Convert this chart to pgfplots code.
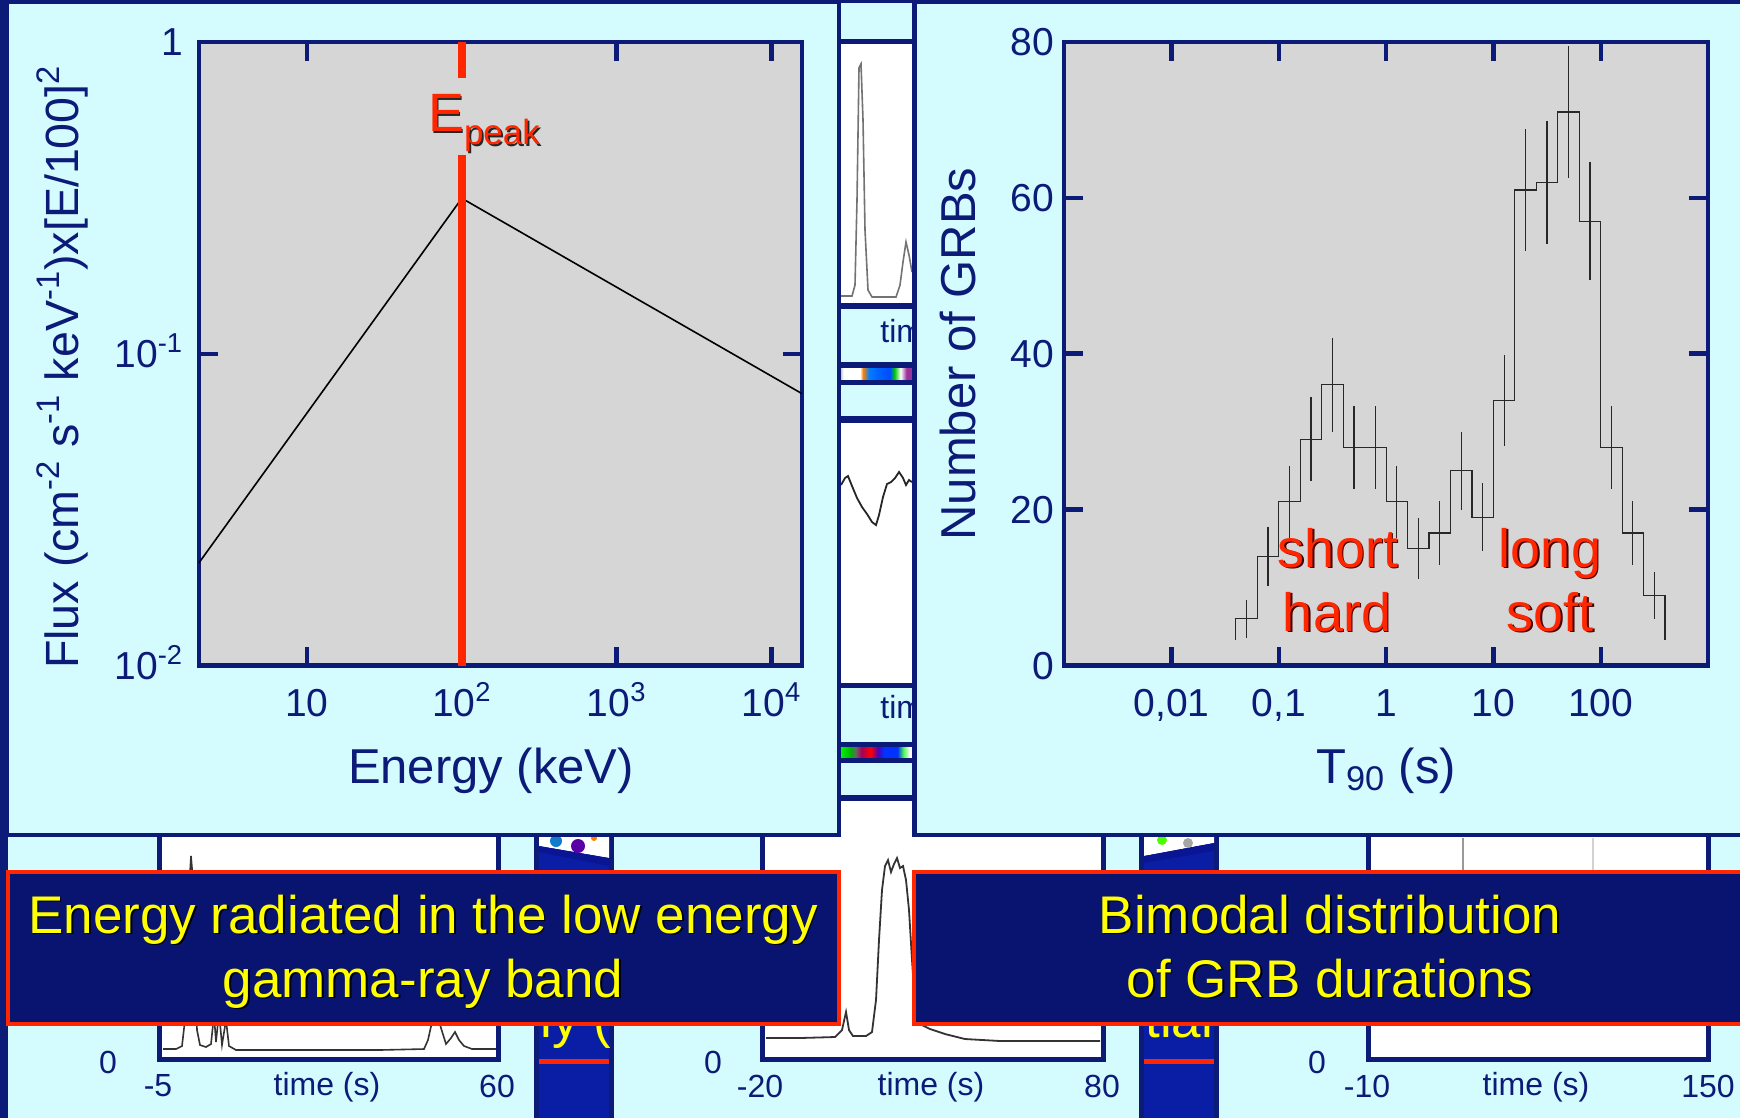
\documentclass[border=0pt]{standalone}
\usepackage{fontspec}
\setmainfont{Liberation Sans}
\usepackage{pgfplots}
\pgfplotsset{compat=1.18, /pgf/number format/assume math mode=true}
\definecolor{navy}{RGB}{12,26,120}
\definecolor{cyanbg}{RGB}{212,251,253}
\definecolor{plotbg}{RGB}{214,214,214}
\definecolor{redc}{RGB}{255,38,0}
\definecolor{boxfill}{RGB}{8,20,112}
\definecolor{stripblue}{RGB}{10,30,165}
\definecolor{histc}{RGB}{40,40,40}
\definecolor{ylw}{RGB}{255,255,0}
\pgfdeclarehorizontalshading{stripA}{100bp}{color(0bp)=(gray!70); color(25bp)=(gray!70); color(28bp)=(white); color(39bp)=(white); color(41bp)=(orange); color(45bp)=(cyan!50!blue); color(50bp)=(blue!60!cyan); color(59bp)=(blue!70!cyan); color(62bp)=(green!80!black); color(66bp)=(white); color(70bp)=(violet!80); color(75bp)=(violet!80); color(100bp)=(violet!80)}
\pgfdeclarehorizontalshading{stripB}{100bp}{color(0bp)=(green); color(25bp)=(green); color(33bp)=(green!70!black); color(36bp)=(black!60); color(40bp)=(violet!70!red); color(46bp)=(red); color(51bp)=(violet!60!blue); color(55bp)=(blue!80!cyan); color(64bp)=(blue!80!cyan); color(68bp)=(green!70); color(72bp)=(white); color(75bp)=(white); color(100bp)=(white)}
\newcommand{\fA}{\fontsize{24.5}{28}\selectfont}
\newcommand{\fY}{\fontsize{23.3}{27}\selectfont}
\newcommand{\fT}{\fontsize{19.5}{22}\selectfont}
\newcommand{\fB}{\fontsize{26.5}{30}\selectfont}
\newcommand{\fS}{\fontsize{16}{19}\selectfont}
\newcommand{\fR}{\fontsize{27}{30}\selectfont}
\begin{document}
\begin{tikzpicture}
\useasboundingbox (0,0) rectangle (870pt,-559pt);
\clip (0,0) rectangle (870pt,-559pt);
% ---------------- background ----------------
\begin{scope}[x=0.5pt,y=-0.5pt]
 \fill[cyanbg] (0,0) rectangle (1740,1118);
 % bottom light-curve boxes
 \filldraw[fill=white, draw=navy, line width=2.5pt] (159.5,798) rectangle (498.5,1059.5);
 \filldraw[fill=white, draw=navy, line width=2.5pt] (762.5,798) rectangle (1103,1059.5);
 \filldraw[fill=white, draw=navy, line width=2.5pt] (1368.5,798) rectangle (1708.5,1059.5);
 % blue strips
 \filldraw[fill=stripblue, draw=navy, line width=2.5pt] (536.5,820) rectangle (611.5,1130);
 \filldraw[fill=stripblue, draw=navy, line width=2.5pt] (1141.5,820) rectangle (1216.5,1130);
 \fill[white] (539,836) -- (609,836) -- (609,858) -- (539,846) -- cycle;
 \fill[navy!80!blue] (539,846) -- (609,858) -- (609,866) -- (539,852) -- cycle;
 \fill[cyan!60!blue] (556,841) circle (6);
 \fill[violet!70!blue] (578,846) circle (7);
 \fill[orange] (594,838) circle (3);
 \fill[white] (1144,836) -- (1214,836) -- (1214,843) -- (1144,856) -- cycle;
 \fill[navy!80!blue] (1144,856) -- (1214,843) -- (1214,851) -- (1144,863) -- cycle;
 \fill[green!70!yellow] (1162,840) circle (5);
 \fill[gray!70] (1188,843) circle (5);
 \fill[redc] (539,1059) rectangle (609,1064);
 \fill[redc] (1144,1059) rectangle (1214,1064);
 % middle strip
 \fill[white] (839,44) rectangle (914,303);
 \fill[white] (839,423) rectangle (914,683);
 \draw[navy, line width=2.5pt] (835,41.5) -- (918,41.5);
 \draw[navy, line width=3pt] (835,306.5) -- (918,306.5);
 \draw[navy, line width=3pt] (835,365) -- (918,365);
 \shade[shading=stripA] (839,368) rectangle (914,380);
 \draw[navy, line width=2.5pt] (835,382.5) -- (918,382.5);
 \draw[navy, line width=3.5pt] (835,419) -- (918,419);
 \draw[navy, line width=2.5pt] (835,685.5) -- (918,685.5);
 \draw[navy, line width=2.5pt] (835,744.5) -- (918,744.5);
 \shade[shading=stripB] (839,747) rectangle (914,758);
 \draw[navy, line width=2.5pt] (835,760) -- (918,760);
 \draw[navy, line width=3pt] (835,798) -- (918,798);
 \node[anchor=base west, inner sep=0pt, text=navy, font=\fS] at (880,343) {time (s)};
 \node[anchor=base west, inner sep=0pt, text=navy, font=\fS] at (880,718) {time (s)};
 % bottom tick labels of the light curves
 \begin{scope}[every node/.style={inner sep=0pt, text=navy, font=\fS}]
  \node at (108,1062) {0};
  \node at (158,1086) {-5};
  \node at (327,1087) {time (s)};
  \node at (497,1086) {60};
  \node at (713,1062) {0};
  \node at (760,1086) {-20};
  \node at (931,1087) {time (s)};
  \node at (1102,1086) {80};
  \node at (1317,1062) {0};
  \node at (1367,1086) {-10};
  \node at (1536,1087) {time (s)};
  \node at (1708,1086) {150};
 \end{scope}
 % hidden yellow texts on the blue strips
 \begin{scope}
  \clip (539,1000) rectangle (609,1059);
  \node[anchor=base west, inner sep=0pt, text=ylw, font=\fB] at (540,1037) {ly (};
 \end{scope}
 \begin{scope}
  \clip (1144,1000) rectangle (1214,1059);
  \node[anchor=base west, inner sep=0pt, text=ylw, font=\fB] at (1145,1037) {tial};
 \end{scope}
\end{scope}
% ---------------- light-curve traces ----------------
\begin{axis}[at={(0pt,0pt)}, anchor=north west, scale only axis, width=870pt, height=559pt,
  xmin=0, xmax=1740, ymin=0, ymax=1118, y dir=reverse, hide axis, clip=false, enlargelimits=false]
 \addplot[black!80, line width=0.8pt] coordinates {(163,1049) (176,1049) (182,1046) (185,1020) (187,960) (189,890) (191,856) (193,880) (195,960) (197,1030) (200,1045) (206,1047) (211,1044) (214,1015) (216,1042) (219,1012) (222,1045) (226,1020) (229,1046) (236,1050) (300,1050) (380,1050) (424,1049) (428,1040) (432,1022) (437,1015) (441,1028) (446,1044) (451,1038) (455,1032) (459,1040) (464,1046) (472,1049) (496,1049)};
 \addplot[black!80, line width=0.9pt] coordinates {(766,1038) (800,1038) (835,1037) (842,1030) (846,1012) (849,1030) (853,1036) (866,1036) (872,1032) (876,1000) (879,940) (882,890) (885,866) (888,860) (891,872) (894,864) (897,858) (900,868) (903,866) (906,880) (909,910) (912,960) (915,1005) (920,1024) (930,1029) (945,1034) (965,1039) (1000,1041) (1100,1041)};
 \addplot[black!55, line width=0.8pt] coordinates {(841,296) (852,296) (855,285) (857,200) (859,68) (861,64) (863,120) (865,230) (868,290) (872,297) (896,297) (900,285) (903,262) (906,242) (909,255) (912,272)};
 \addplot[black!85, line width=0.9pt] coordinates {(841,485) (845,478) (848,476) (852,486) (857,498) (862,507) (867,514) (872,522) (876,525) (879,515) (883,497) (887,484) (891,482) (895,478) (899,472) (903,478) (906,485) (909,480) (912,482)};
 \addplot[gray!80, line width=0.8pt] coordinates {(1463,838) (1463,870)};
 \addplot[gray!35, line width=0.8pt] coordinates {(1593,838) (1593,870)};
\end{axis}
% ---------------- main panels ----------------
\begin{scope}[x=0.5pt,y=-0.5pt]
 \filldraw[fill=cyanbg, draw=navy, line width=2.3pt] (7,2) rectangle (839,835);
 \filldraw[fill=cyanbg, draw=navy, line width=2.3pt] (914.5,2) rectangle (1760,835);
 \fill[navy] (0,0) rectangle (8,1118);
 \fill[navy] (0,0) rectangle (1740,3);
\end{scope}
% ---------------- left axis: spectrum ----------------
\begin{axis}[at={(99.35pt,-20.9pt)}, anchor=north west, scale only axis,
  width=301.6pt, height=311.9pt,
  xmode=log, ymode=log, xmin=2, xmax=15700, ymin=0.01, ymax=1,
  enlargelimits=false,
  axis background/.style={fill=plotbg},
  axis line style={navy, line width=2.2pt},
  tick style={navy, line width=2.2pt},
  minor tick style={draw=none},
  major tick length=9.5pt, tick align=inside,
  xtick={10,100,1000,10000},
  xticklabels={10,10\textsuperscript{2},10\textsuperscript{3},10\textsuperscript{4}},
  ytick={0.01,0.1,1},
  yticklabels={10\textsuperscript{-2},10\textsuperscript{-1},1},
  ticklabel style={font=\fT, text=navy},
  xticklabel style={anchor=base, yshift=-25.3pt},
  yticklabel style={anchor=base east, yshift=-7pt, xshift=-4.3pt},
]
 \addplot[black, line width=0.8pt] coordinates {(2,0.0213) (100,0.315) (15700,0.0745)};
 \addplot[redc, line width=4pt] coordinates {(100,1) (100,0.767)};
 \addplot[redc, line width=4pt] coordinates {(100,0.434) (100,0.01)};
\end{axis}
% ---------------- right axis: T90 histogram ----------------
\begin{axis}[at={(532.1pt,-20.9pt)}, anchor=north west, scale only axis,
  width=321.9pt, height=311.9pt,
  xmode=log, xmin=0.001, xmax=1000, ymin=0, ymax=80,
  enlargelimits=false,
  axis background/.style={fill=plotbg},
  axis line style={navy, line width=2.2pt},
  tick style={navy, line width=2.2pt},
  minor tick style={draw=none},
  major tick length=9.5pt, tick align=inside,
  xtick={0.01,0.1,1,10,100},
  xticklabels={{0,01},{0,1},1,10,100},
  ytick={0,20,40,60,80},
  yticklabels={0,20,40,60,80},
  ticklabel style={font=\fT, text=navy},
  xticklabel style={anchor=base, yshift=-25.3pt},
  yticklabel style={anchor=base east, yshift=-7pt, xshift=-1.4pt},
]
 \addplot[histc, line width=0.6pt, const plot mark left] coordinates {
  (0.0398,3.3) (0.0398,6) (0.0631,14) (0.1,21) (0.1585,29) (0.2512,36) (0.3981,28)
  (0.631,28) (1,21) (1.585,15) (2.512,17) (3.981,25) (6.31,19) (10,34)
  (15.85,61) (25.12,62) (39.81,71) (63.1,57) (100,28) (158.5,17) (251.2,9) (398.1,3.3)};
 \addplot[histc, line width=0.6pt, only marks, mark=*, mark size=0pt,
   mark options={draw=none, fill=none},
   error bars/.cd, y dir=both, y explicit, error mark=none,
   error bar style={draw=histc, line width=0.6pt}] coordinates {
  (0.0501,6) +- (0,2.45)
  (0.0794,14) +- (0,3.74)
  (0.1259,21) +- (0,4.58)
  (0.1995,29) +- (0,5.39)
  (0.3162,36) +- (0,6.0)
  (0.5012,28) +- (0,5.29)
  (0.7943,28) +- (0,5.29)
  (1.259,21) +- (0,4.58)
  (1.995,15) +- (0,3.87)
  (3.162,17) +- (0,4.12)
  (5.012,25) +- (0,5.0)
  (7.943,19) +- (0,4.36)
  (12.59,34) +- (0,5.83)
  (19.95,61) +- (0,7.81)
  (31.62,62) +- (0,7.87)
  (50.12,71) +- (0,8.43)
  (79.43,57) +- (0,7.55)
  (125.9,28) +- (0,5.29)
  (199.5,17) +- (0,4.12)
  (316.2,9) +- (0,3.0)};
\end{axis}
% ---------------- labels and boxes ----------------
\begin{scope}[x=0.5pt,y=-0.5pt, every node/.style={inner sep=0pt, outer sep=0pt}]
 \node[anchor=base, text=navy, font=\fA] at (491,783) {Energy (keV)};
 \node[anchor=base, text=navy, font=\fA] at (1386,783) {T\textsubscript{90} (s)};
 \node[anchor=base, rotate=90, text=navy, font=\fY] at (78,367) {Flux (cm\textsuperscript{-2} s\textsuperscript{-1} keV\textsuperscript{-1})x[E/100]\textsuperscript{2}};
 \node[anchor=base, rotate=90, text=navy, font=\fA] at (975,354) {Number of GRBs};
 % E_peak
 \node[anchor=base west, text=black!85, xshift=0.9pt, yshift=-0.9pt] at (428,132) {{\fR E}\raisebox{-6.5pt}{\fontsize{17.5}{20}\selectfont peak}};
 \node[anchor=base west, text=redc] at (428,132) {{\fR E}\raisebox{-6.5pt}{\fontsize{17.5}{20}\selectfont peak}};
 % short hard / long soft
 \foreach \x/\y/\t in {1338/567/short, 1337/631/hard, 1550/567/long, 1550/631/soft}{
  \node[anchor=base, text=black!75!red, font=\fR, xshift=0.9pt, yshift=-0.9pt] at (\x,\y) {\t};
  \node[anchor=base, text=redc, font=\fR] at (\x,\y) {\t};
 }
 % text boxes
 \filldraw[fill=boxfill, draw=redc, line width=2pt] (8,872) rectangle (839,1023.5);
 \filldraw[fill=boxfill, draw=redc, line width=2pt] (914,872) rectangle (1760,1023.5);
 \foreach \x/\y/\t in {423/933/Energy radiated in the low energy, 423/997/gamma-ray band, 1330/933/Bimodal distribution, 1330/997/of GRB durations}{
  \node[anchor=base, text=black, font=\fB, xshift=0.8pt, yshift=-0.8pt] at (\x,\y) {\t};
  \node[anchor=base, text=ylw, font=\fB] at (\x,\y) {\t};
 }
\end{scope}
\end{tikzpicture}
\end{document}
